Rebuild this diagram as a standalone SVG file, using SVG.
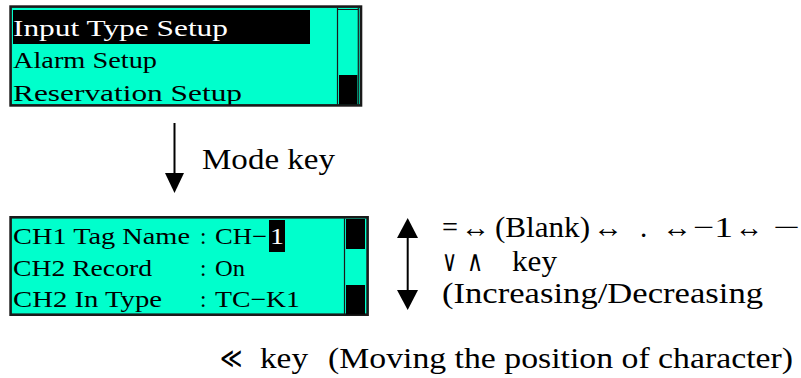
<svg xmlns="http://www.w3.org/2000/svg" width="801" height="378" viewBox="0 0 801 378">
<style>
  .lcd { fill: #00FFCC; stroke: #1a1a1a; stroke-width: 2.6; }
  .t { font-family: "Liberation Serif", "Times New Roman", Times, serif; fill: #000; }
  .box { font-size: 23px; }
  .lbl { font-size: 29px; }
  .w { fill: #fff; }
  .blk { fill: #000; }
  .sl { stroke: #1a1a1a; stroke-width: 1.2; fill: none; }
  .conn { stroke: #000; stroke-width: 2; fill: none; }
</style>
<defs>
  <clipPath id="clip1"><rect x="12" y="8" width="347.6" height="96.4"/></clipPath>
  <clipPath id="clip2"><rect x="12" y="218.6" width="354.2" height="96"/></clipPath>
</defs>

<g id="menu-screen">
  <rect class="lcd" x="10.6" y="6.6" width="350.4" height="98.8"/>
  <g clip-path="url(#clip1)">
    <rect class="blk" x="13" y="10" width="297" height="34"/>
    <line class="sl" x1="337.5" y1="8" x2="337.5" y2="105"/>
    <line class="sl" x1="337.5" y1="9.5" x2="358.3" y2="9.5"/>
    <line class="sl" x1="358.3" y1="8" x2="358.3" y2="105"/>
    <rect class="blk" x="339" y="75" width="18.3" height="30"/>
    <text class="t box w" x="13" y="36" textLength="215" lengthAdjust="spacingAndGlyphs">Input Type Setup</text>
    <text class="t box" x="13" y="68" textLength="144" lengthAdjust="spacingAndGlyphs">Alarm Setup</text>
    <text class="t box" x="13" y="101" textLength="229" lengthAdjust="spacingAndGlyphs">Reservation Setup</text>
  </g>
</g>

<g id="mode-key-label">
  <text class="t lbl" x="202" y="169" textLength="133" lengthAdjust="spacingAndGlyphs">Mode key</text>
</g>

<g id="tag-screen">
  <rect class="lcd" x="10.6" y="217.3" width="357" height="97.4"/>
  <g clip-path="url(#clip2)">
    <line class="sl" x1="344.5" y1="218" x2="344.5" y2="316"/>
    <rect class="blk" x="346" y="219" width="19" height="30"/>
    <rect class="blk" x="346" y="285" width="19" height="30"/>
    <rect class="blk" x="269" y="220" width="16" height="32"/>
    <text class="t box" x="13" y="244" textLength="177" lengthAdjust="spacingAndGlyphs">CH1 Tag Name</text>
    <text class="t box" x="200" y="244">:</text>
    <text class="t box" x="215" y="244" textLength="52" lengthAdjust="spacingAndGlyphs">CH−</text>
    <text class="t box w" x="270" y="244" textLength="14" lengthAdjust="spacingAndGlyphs">1</text>
    <text class="t box" x="13" y="276" textLength="139" lengthAdjust="spacingAndGlyphs">CH2 Record</text>
    <text class="t box" x="200" y="276">:</text>
    <text class="t box" x="215" y="276" textLength="30" lengthAdjust="spacingAndGlyphs">On</text>
    <text class="t box" x="13" y="307" textLength="149" lengthAdjust="spacingAndGlyphs">CH2 In Type</text>
    <text class="t box" x="200" y="307">:</text>
    <text class="t box" x="215" y="307" textLength="85" lengthAdjust="spacingAndGlyphs">TC−K1</text>
  </g>
</g>

<g id="key-description">
  <text class="t lbl" x="442" y="237" textLength="16" lengthAdjust="spacingAndGlyphs">=</text>
  <text class="t lbl" x="461" y="237" textLength="29" lengthAdjust="spacingAndGlyphs">↔</text>
  <text class="t lbl" x="495" y="237" textLength="95" lengthAdjust="spacingAndGlyphs">(Blank)</text>
  <text class="t lbl" x="593" y="237" textLength="30" lengthAdjust="spacingAndGlyphs">↔</text>
  <text class="t lbl" x="640" y="237">.</text>
  <text class="t lbl" x="662" y="237" textLength="30" lengthAdjust="spacingAndGlyphs">↔</text>
  <text class="t lbl" x="693" y="237" textLength="40" lengthAdjust="spacingAndGlyphs">−1</text>
  <text class="t lbl" x="735" y="237" textLength="28" lengthAdjust="spacingAndGlyphs">↔</text>
  <text class="t lbl" x="773" y="237" textLength="27" lengthAdjust="spacingAndGlyphs">−</text>
  <text class="t lbl" x="442" y="271" textLength="15" lengthAdjust="spacingAndGlyphs">∨</text>
  <text class="t lbl" x="467" y="271" textLength="16" lengthAdjust="spacingAndGlyphs">∧</text>
  <text class="t lbl" x="512" y="271" textLength="45" lengthAdjust="spacingAndGlyphs">key</text>
  <text class="t lbl" x="442" y="303" textLength="321" lengthAdjust="spacingAndGlyphs">(Increasing/Decreasing</text>
</g>

<g id="move-key-label">
  <text class="t lbl" x="220" y="368" textLength="22" lengthAdjust="spacingAndGlyphs">≪</text>
  <text class="t lbl" x="260" y="368" textLength="48" lengthAdjust="spacingAndGlyphs">key</text>
  <text class="t lbl" x="328" y="368" textLength="465" lengthAdjust="spacingAndGlyphs">(Moving the position of character)</text>
</g>

<g id="connectors">
  <line class="conn" x1="174.5" y1="123" x2="174.5" y2="175"/>
  <polygon points="165,173 184,173 174.5,193" fill="#000"/>
  <line class="conn" x1="407.7" y1="236" x2="407.7" y2="292"/>
  <polygon points="397,238 418,238 407.7,218" fill="#000"/>
  <polygon points="397,290 418,290 407.7,310" fill="#000"/>
</g>
</svg>
